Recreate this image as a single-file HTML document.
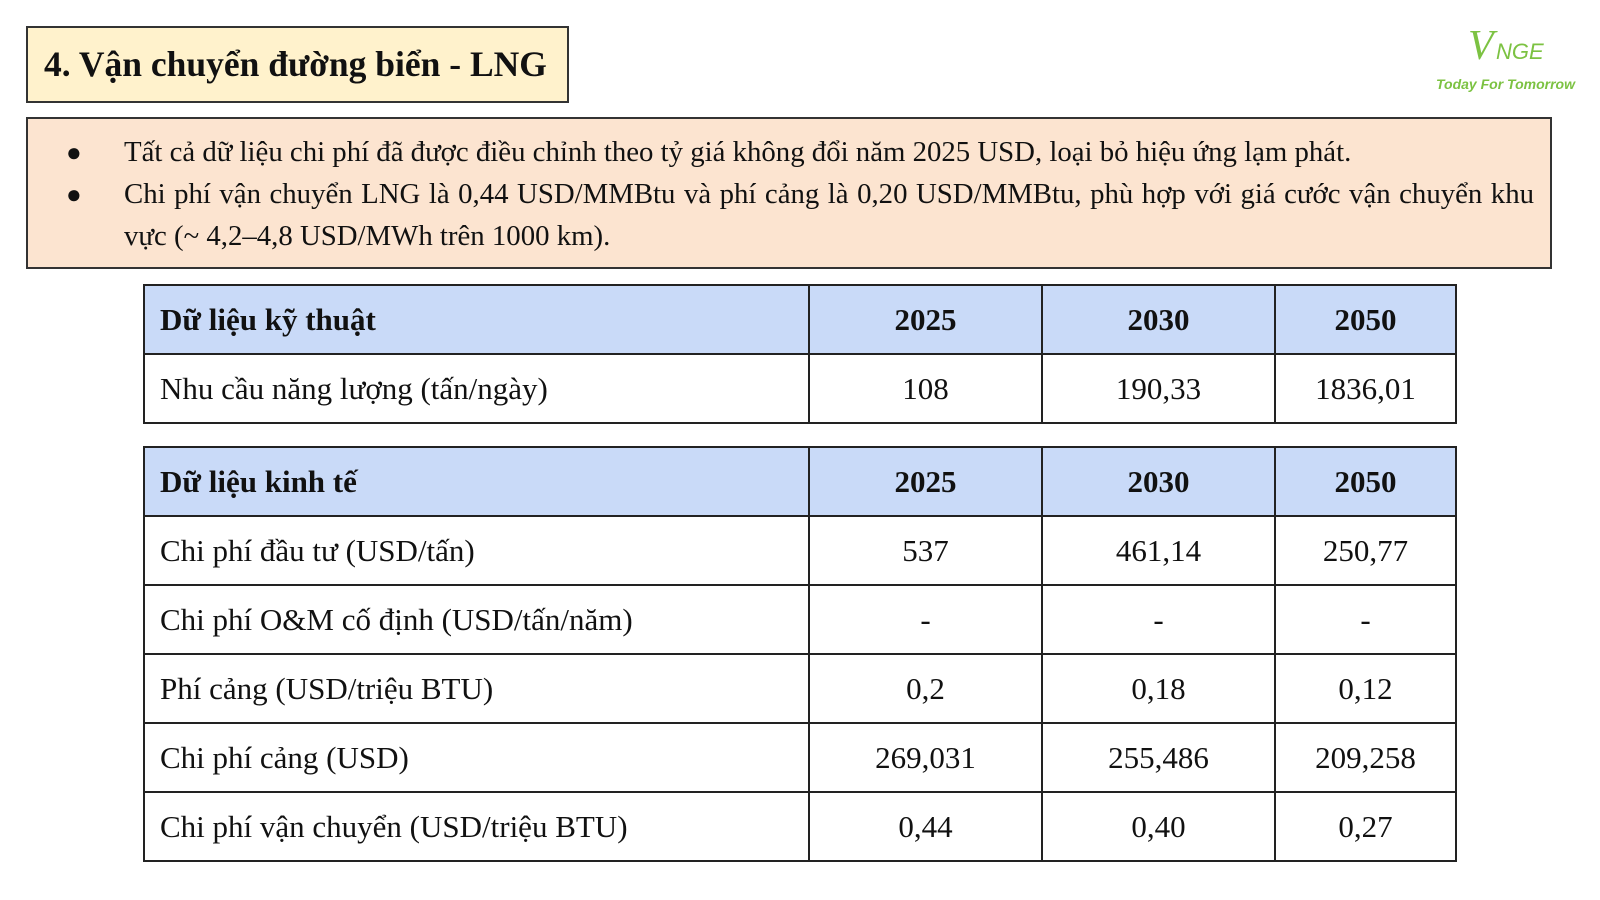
<!DOCTYPE html>
<html><head><meta charset="utf-8"><style>
body{margin:0;width:1600px;height:900px;background:#fff;position:relative;font-family:"Liberation Serif",serif;color:#111;overflow:hidden}
.title{position:absolute;left:26px;top:26px;width:543px;height:77px;background:#fff2cc;border:2px solid #333;box-sizing:border-box;font-weight:bold;font-size:35.5px;line-height:73px;padding-left:16px}
.info{position:absolute;left:26px;top:117px;width:1526px;height:152px;background:#fce4d0;border:2px solid #333;box-sizing:border-box;font-size:28.8px}
.info .b{position:absolute;left:38px;font-size:26px}
.info .t{position:absolute;left:96px;right:16px;line-height:42px;text-align:justify}
table{position:absolute;left:143px;width:1314px;border-collapse:collapse;font-size:31px}
td{border:2px solid #222;height:67px;padding:0;text-align:center}
td:first-child{text-align:left;padding-left:15px;width:648px}
td:nth-child(2),td:nth-child(3){width:231px}
tr.h td{background:#c9daf8;font-weight:bold}
.logo{position:absolute;left:1434px;top:20px;color:#7cc242;font-family:"Liberation Sans",sans-serif}
</style></head><body>
<div class="title">4. Vận chuyển đường biển - LNG</div>
<div class="info">
<div class="b" style="top:19px">●</div>
<div class="t" style="top:12px">Tất cả dữ liệu chi phí đã được điều chỉnh theo tỷ giá không đổi năm 2025 USD, loại bỏ hiệu ứng lạm phát.</div>
<div class="b" style="top:61px">●</div>
<div class="t" style="top:54px;text-align-last:left">Chi phí vận chuyển LNG là 0,44 USD/MMBtu và phí cảng là 0,20 USD/MMBtu, phù hợp với giá cước vận chuyển khu vực (~ 4,2–4,8 USD/MWh trên 1000 km).</div>
</div>
<div class="logo">
<div style="position:absolute;left:34px;top:2px;font-size:42px;font-style:italic;font-family:'Liberation Serif',serif">V</div>
<div style="position:absolute;left:62px;top:19px;font-size:22px;font-style:italic">NGE</div>
<div style="position:absolute;left:2px;top:56px;font-size:14px;font-weight:bold;font-style:italic;white-space:nowrap">Today For Tomorrow</div>
</div>
<table style="top:284px">
<tr class="h"><td>Dữ liệu kỹ thuật</td><td>2025</td><td>2030</td><td>2050</td></tr>
<tr><td>Nhu cầu năng lượng (tấn/ngày)</td><td>108</td><td>190,33</td><td>1836,01</td></tr>
</table>
<table style="top:446px">
<tr class="h"><td>Dữ liệu kinh tế</td><td>2025</td><td>2030</td><td>2050</td></tr>
<tr><td>Chi phí đầu tư (USD/tấn)</td><td>537</td><td>461,14</td><td>250,77</td></tr>
<tr><td>Chi phí O&amp;M cố định (USD/tấn/năm)</td><td>-</td><td>-</td><td>-</td></tr>
<tr><td>Phí cảng (USD/triệu BTU)</td><td>0,2</td><td>0,18</td><td>0,12</td></tr>
<tr><td>Chi phí cảng (USD)</td><td>269,031</td><td>255,486</td><td>209,258</td></tr>
<tr><td>Chi phí vận chuyển (USD/triệu BTU)</td><td>0,44</td><td>0,40</td><td>0,27</td></tr>
</table>
</body></html>
